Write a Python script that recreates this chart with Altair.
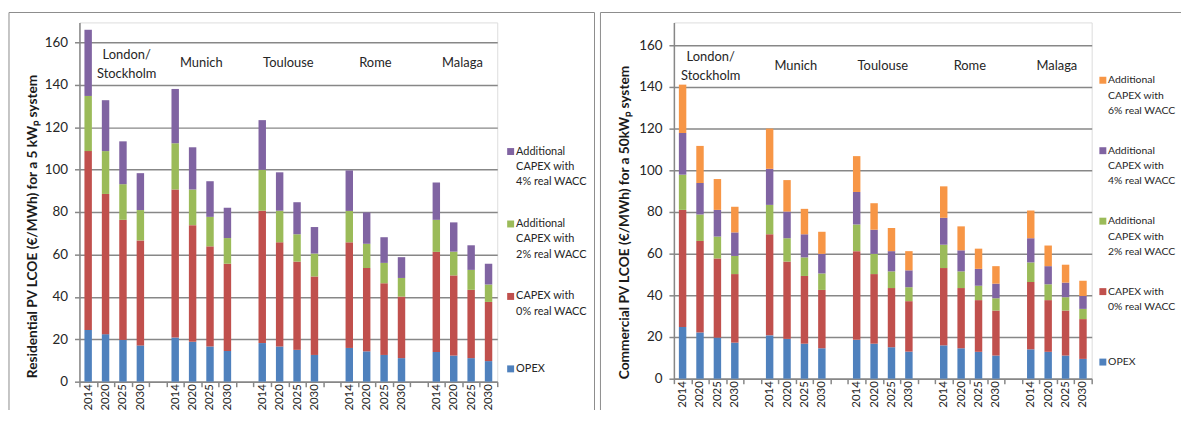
import altair as alt
import pandas as pd

cities = ["London/Stockholm", "Munich", "Toulouse", "Rome", "Malaga"]
city_labels = ["London/\nStockholm", "Munich", "Toulouse", "Rome", "Malaga"]
years = ["2014", "2020", "2025", "2030"]

series_res = ["OPEX", "CAPEX with|0% real WACC",
              "Additional|CAPEX with|2% real WACC",
              "Additional|CAPEX with|4% real WACC"]
series_com = series_res + ["Additional|CAPEX with|6% real WACC"]
colors = ["#4F81BD", "#C0504D", "#9BBB59", "#8064A2", "#F79646"]

# Residential 5 kWp (segment heights, EUR/MWh), order: city x year
res_opex = [24.4, 22.4, 19.7, 17.1, 20.8, 18.8, 16.6, 14.5, 18.2, 16.6, 15.0, 12.6, 15.9, 14.3, 12.6, 11.1, 14.0, 12.3, 11.1, 9.7]
res_capex0 = [84.3, 66.1, 56.6, 49.5, 69.8, 55.0, 47.2, 41.1, 62.4, 49.1, 41.6, 37.0, 49.8, 39.3, 33.8, 29.0, 47.2, 37.8, 32.2, 27.9]
res_add2 = [26.0, 20.2, 16.8, 14.3, 21.8, 16.8, 13.9, 12.1, 19.3, 14.9, 12.9, 10.8, 14.8, 11.4, 9.6, 8.8, 15.1, 11.2, 9.4, 8.2]
res_add4 = [31.2, 24.0, 20.2, 17.4, 25.6, 19.9, 16.8, 14.3, 23.4, 18.1, 15.1, 12.5, 19.1, 14.8, 12.1, 9.8, 17.6, 13.8, 11.6, 9.8]

# Commercial 50 kWp
com_opex = [24.8, 22.2, 19.7, 17.3, 20.8, 19.1, 16.8, 14.6, 18.7, 16.8, 15.1, 13.0, 16.0, 14.6, 12.9, 11.1, 14.1, 12.9, 11.1, 9.5]
com_capex0 = [56.2, 43.9, 38.0, 32.9, 48.5, 37.1, 32.5, 28.0, 42.5, 33.4, 28.4, 24.2, 37.1, 28.9, 24.8, 21.6, 32.3, 24.8, 21.6, 19.1]
com_add2 = [16.9, 12.7, 10.5, 8.7, 14.1, 11.2, 8.9, 7.9, 12.8, 9.7, 8.0, 6.7, 11.2, 8.0, 6.9, 5.9, 9.4, 7.6, 6.4, 4.9]
com_add4 = [20.0, 15.1, 12.8, 11.3, 17.3, 12.8, 11.1, 9.4, 15.6, 11.6, 9.7, 8.1, 12.9, 10.1, 8.1, 7.0, 11.6, 8.7, 7.0, 6.2]
com_add6 = [23.2, 17.8, 14.8, 12.3, 19.3, 15.1, 12.2, 10.6, 17.2, 12.7, 11.1, 9.2, 15.1, 11.5, 9.7, 8.4, 13.3, 9.9, 8.6, 7.3]

res_title = "Residential PV LCOE (€/MWh) for a 5 kWₚ system"
com_title = "Commercial PV LCOE (€/MWh) for a 50kWₚ system"

y_ticks = [0, 20, 40, 60, 80, 100, 120, 140, 160]

# slots: 4 years per city plus a gap slot between cities
slots = []
for i, c in enumerate(cities):
    for yr in years:
        slots.append(f"{c}|{yr}")
    if i < len(cities) - 1:
        slots.append(f"{c}|gap")

FONT = "Lato"
GRID = "#878787"
TXT = "#262626"
FRAME = "#8c8c8c"

YEAR_EXPR = ("indexof('' + datum.value, 'gap') >= 0 || indexof('' + datum.value, '|') < 0"
             " ? '' : split('' + datum.value, '|')[1]")


def make_df(series, lists):
    rows = []
    k = 0
    for c in cities:
        for yr in years:
            for s_i, (s, vals) in enumerate(zip(series, lists)):
                rows.append({"slot": f"{c}|{yr}", "series": s, "value": vals[k], "order": s_i})
            k += 1
    return pd.DataFrame(rows)


def edge(x1, x2, y1, y2):
    return alt.Chart(alt.Data(values=[{"a": 1}])).mark_rule(
        stroke=FRAME, strokeWidth=1).encode(
        x=alt.value(x1), x2=alt.value(x2), y=alt.value(y1), y2=alt.value(y2))


def panel(df, series, title, W, H, ymax, title_x, title_y, legend_x, legend_y,
          row_pad, legend_fs, london_dx, london_dy, frame_edges):
    xscale = alt.Scale(domain=slots, paddingInner=0, paddingOuter=0)
    yscale = alt.Scale(domain=[0, ymax], nice=False)
    dom = list(reversed(series))
    rng = list(reversed(colors[:len(series)]))
    half_slot = W / len(slots) / 2

    xaxis = alt.Axis(title=None, labelAngle=-90, tickBand="extent",
                     labelExpr=YEAR_EXPR,
                     labelFont=FONT, labelFontSize=11.5, labelColor=TXT,
                     labelPadding=-3, tickSize=5, tickColor=GRID,
                     tickWidth=1.5, domainColor=GRID, domainWidth=1.5,
                     grid=False)
    yaxis = alt.Axis(values=y_ticks, title=title, grid=True,
                     gridColor=GRID, gridWidth=1.5, domainColor=GRID,
                     domainWidth=1.5, tickColor=GRID, tickWidth=1.5,
                     tickSize=5, labelFont=FONT, labelFontSize=13.5,
                     labelColor=TXT, labelPadding=7,
                     titleFont=FONT, titleFontSize=13.8,
                     titleFontWeight="bold", titleColor="#1a1a1a",
                     titleAngle=270, titleAlign="left",
                     titleBaseline="middle",
                     titleX=title_x, titleY=title_y)

    bars = alt.Chart(df).mark_bar(size=7.5).encode(
        x=alt.X("slot:N", scale=xscale, sort=slots, axis=xaxis),
        y=alt.Y("value:Q", stack="zero", scale=yscale, axis=yaxis),
        color=alt.Color("series:N", scale=alt.Scale(domain=dom, range=rng),
                        legend=alt.Legend(orient="none", legendX=legend_x,
                                          legendY=legend_y, title=None,
                                          symbolType="square", symbolSize=49,
                                          symbolStrokeWidth=0,
                                          labelExpr="split('' + datum.label, '|')",
                                          labelFont=FONT, labelFontSize=legend_fs,
                                          labelColor=TXT, labelOffset=0,
                                          labelLimit=0, labelBaseline="middle",
                                          gridAlign="all", rowPadding=row_pad,
                                          padding=0)),
        order=alt.Order("order:Q", sort="ascending"),
    )

    # city labels centred over each group (between the 2020 and 2025 bars)
    lab_df = pd.DataFrame({"slot": [f"{c}|2020" for c in cities],
                           "label": city_labels,
                           "value": [150] * len(cities)})
    text_common = dict(font=FONT, fontSize=13, color=TXT, baseline="middle",
                       align="center", lineBreak="\n", lineHeight=19)
    xenc = alt.X("slot:N", scale=xscale, sort=slots)
    yenc = alt.Y("value:Q", scale=yscale)
    lab_main = alt.Chart(lab_df.iloc[1:]).mark_text(dx=half_slot, **text_common).encode(
        x=xenc, y=yenc, text="label:N")
    lab_london = alt.Chart(lab_df.iloc[:1]).mark_text(
        dx=half_slot + london_dx, dy=london_dy, **text_common).encode(
        x=xenc, y=yenc, text="label:N")

    edges = [edge(*e) for e in frame_edges]
    return alt.layer(bars, lab_main, lab_london, *edges).properties(width=W, height=H)


W = 421
H_L = 362.0
H_R = 359.0

df_res = make_df(series_res, [res_opex, res_capex0, res_add2, res_add4])
df_com = make_df(series_com, [com_opex, com_capex0, com_add2, com_add4, com_add6])

# frame of each panel: left, top and right edges (bottom is below the picture)
left_frame = [(-71, -71, -10, H_L + 38), (-71, W + 98, -10, -10), (W + 98, W + 98, -10, H_L + 38)]
right_frame = [(-74, -74, -10, H_R + 41), (-74, W + 93, -10, -10)]

left = panel(df_res, series_res, res_title, W, H_L, 169.36,
             title_x=-47, title_y=H_L - 4, legend_x=W + 8, legend_y=124.6,
             row_pad=30, legend_fs=11, london_dx=12.5, london_dy=-8.5,
             frame_edges=left_frame)
right = panel(df_com, series_com, com_title, W, H_R, 170.95,
              title_x=-50, title_y=H_R, legend_x=W + 6, legend_y=53,
              row_pad=29, legend_fs=10.5, london_dx=2, london_dy=-9,
              frame_edges=right_frame)

chart = alt.hconcat(left, right, spacing=4).resolve_scale(
    color="independent").properties(
    padding={"left": 0, "top": 2, "right": -4, "bottom": -12}
).configure_view(strokeWidth=0).configure(
    font=FONT, style={"guide-label": {"lineHeight": 15.5}})

chart.save("out.html", embed_options={"renderer": "svg", "actions": False})
